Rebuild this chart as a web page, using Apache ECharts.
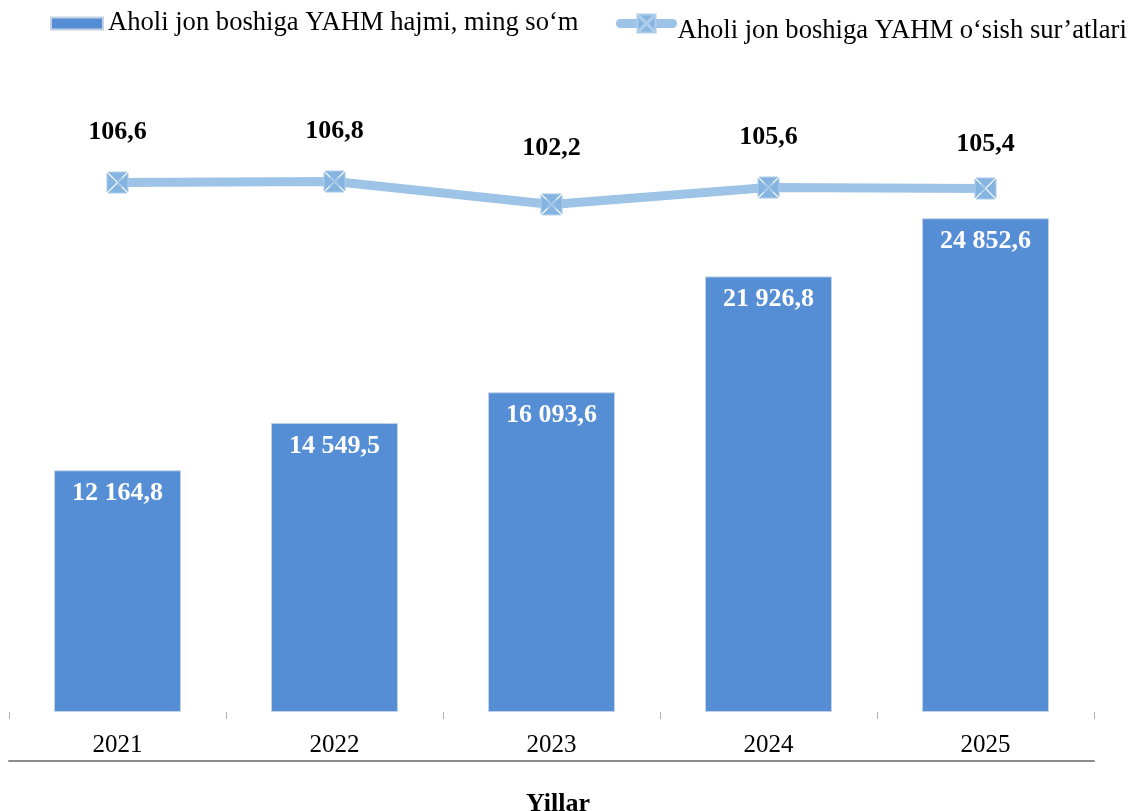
<!DOCTYPE html>
<html><head><meta charset="utf-8">
<script src="https://cdn.jsdelivr.net/npm/echarts@6/dist/echarts.min.js"></script>
<style>html,body{margin:0;padding:0;background:#fff}#c{width:1134px;height:811px}</style>
</head><body><div id="c"></div>
<script>
// ---- data ----
const categories = ['2021', '2022', '2023', '2024', '2025'];
const gdpPerCapita = [12164.8, 14549.5, 16093.6, 21926.8, 24852.6];
const growthRate = [106.6, 106.8, 102.2, 105.6, 105.4];
const barName = 'Aholi jon boshiga YAHM hajmi, ming so‘m';
const lineName = 'Aholi jon boshiga YAHM o‘sish sur’atlari';
const axisTitle = 'Yillar';

// ---- style ----
const FONT = "'Liberation Serif', 'Times New Roman', serif";
const lineLabelNudge = [0, 0, -6, 0, 6];
const markerPath = 'path://M1,0 L19,0 L10,9 Z M20,1 L20,19 L11,10 Z M19,20 L1,20 L10,11 Z M0,19 L0,1 L9,10 Z';

function fmtBig(v) {
  const parts = v.toFixed(1).split('.');
  return parts[0].replace(/\B(?=(\d{3})+(?!\d))/g, ' ') + ',' + parts[1];
}
function fmtSmall(v) { return v.toFixed(1).replace('.', ','); }

const chart = echarts.init(document.getElementById('c'));
chart.setOption({
  animation: false,
  backgroundColor: '#fff',
  grid: { left: 9, right: 40, top: 116, bottom: 99, containLabel: false, outerBoundsMode: 'none' },
  legend: [
    {
      data: [barName], left: 50, top: 10, padding: 0,
      itemWidth: 52, itemHeight: 12, icon: 'rect',
      textStyle: { fontSize: 26.6, lineHeight: 26, color: '#000', fontFamily: FONT }
    },
    {
      data: [lineName], left: 616, top: 2, padding: 0,
      itemWidth: 52, itemHeight: 22.5,
      lineStyle: { width: 9, cap: 'round' },
      formatter: name => '{a|' + name + '}',
      textStyle: {
        fontSize: 26.6, lineHeight: 26, color: '#000', fontFamily: FONT,
        rich: { a: { fontSize: 26.6, lineHeight: 26, color: '#000', fontFamily: FONT, padding: [16, 0, 0, 0] } }
      }
    }
  ],
  graphic: [{
    type: 'text', x: 558, y: 804,
    style: { text: axisTitle, fontSize: 26, fontWeight: 'bold', fontFamily: FONT, fill: '#000', align: 'center', verticalAlign: 'middle' }
  }],
  xAxis: [
    {
      type: 'category', data: categories,
      axisLine: { show: false },
      axisTick: { show: true, length: 7, lineStyle: { color: '#b0b0b0', width: 1 } },
      axisLabel: { color: '#000', fontSize: 25, fontFamily: FONT, margin: 21 }
    },
    {
      type: 'category', data: categories, position: 'bottom', offset: 49,
      axisLine: { show: true, onZero: false, lineStyle: { color: '#8c8c8c', width: 2 } },
      axisTick: { show: false }, axisLabel: { show: false }
    }
  ],
  yAxis: [
    { type: 'value', min: 0, max: 30000, show: false },
    { type: 'value', min: 0, max: 120, show: false }
  ],
  series: [
    {
      type: 'bar', name: barName, data: gdpPerCapita, barWidth: 127,
      itemStyle: { color: '#558ed5', borderColor: '#c3d2e4', borderWidth: 1 },
      label: {
        show: true, position: 'insideTop', distance: 10, color: '#fff',
        fontWeight: 'bold', fontSize: 26, fontFamily: FONT,
        formatter: p => fmtBig(p.value)
      }
    },
    {
      type: 'line', name: lineName, yAxisIndex: 1, z: 3,
      data: growthRate.map((v, i) => ({ value: v, label: { offset: [0, lineLabelNudge[i]] } })),
      symbol: markerPath, symbolSize: 21,
      lineStyle: { color: '#9dc3e6', width: 9 },
      itemStyle: { color: '#85b4e0', borderColor: '#acccea', borderWidth: 1 },
      label: {
        show: true, position: 'top', distance: 26.5, color: '#000',
        fontWeight: 'bold', fontSize: 26, fontFamily: FONT,
        formatter: p => fmtSmall(p.value)
      }
    }
  ]
});
</script>
</body></html>
